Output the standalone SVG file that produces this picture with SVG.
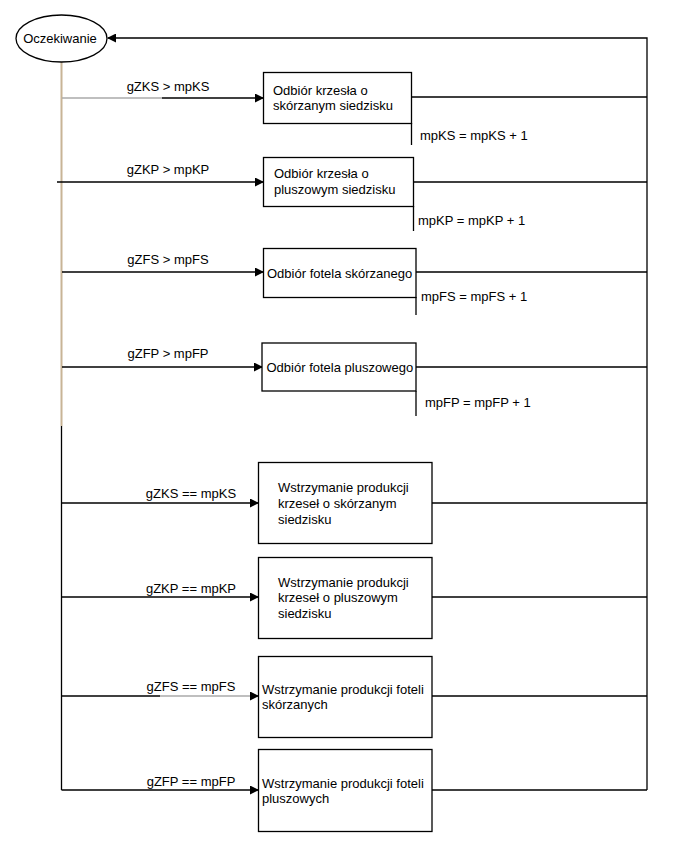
<svg xmlns="http://www.w3.org/2000/svg" width="693" height="861" viewBox="0 0 693 861">
<style>
text{font-family:"Liberation Sans",Arial,sans-serif;font-size:13px;fill:#000}
.m{text-anchor:middle}
.b{fill:#fff;stroke:#000;stroke-width:1.3}
.c{fill:none;stroke:#000;stroke-width:1.3}
.g{fill:none;stroke:#aaa;stroke-width:1.6}
.t{fill:none;stroke:#c8b496;stroke-width:2}
</style>
<defs>
<marker id="a" markerWidth="9" markerHeight="9" refX="8" refY="4.5" orient="auto" markerUnits="userSpaceOnUse">
<path d="M0,0 L9,4.5 L0,9 Z" fill="#000"/>
</marker>
</defs>
<rect width="693" height="861" fill="#fff"/>
<g id="connectors">
<path class="t" d="M61.5,62 V426"/>
<path class="c" d="M61.5,426 V790"/>
<path class="c" d="M647,790 V38 H108" marker-end="url(#a)"/>
<path class="g" d="M62,98 H162"/>
<path class="c" d="M162,98 H263" marker-end="url(#a)"/>
<path class="c" d="M57,182 H263" marker-end="url(#a)"/>
<path class="c" d="M62,272 H263" marker-end="url(#a)"/>
<path class="c" d="M62,367 H262" marker-end="url(#a)"/>
<path class="c" d="M62,503 H258" marker-end="url(#a)"/>
<path class="c" d="M62,597 H258" marker-end="url(#a)"/>
<path class="c" d="M62,696 H160"/>
<path class="g" d="M160,696 H250"/>
<path class="c" d="M250,696 H258" marker-end="url(#a)"/>
<path class="c" d="M61.5,790 H258" marker-end="url(#a)"/>
<path class="c" d="M411.5,97 H647 M411.5,123 V145"/>
<path class="c" d="M413.5,182 H647 M413.5,206 V231"/>
<path class="c" d="M416,272 H647 M416,297 V315"/>
<path class="c" d="M416,367 H647 M416,391 V416"/>
<path class="c" d="M432,503 H647"/>
<path class="c" d="M432,597 H647"/>
<path class="c" d="M432,696 H647"/>
<path class="c" d="M432,790 H647"/>
<text class="m" x="168" y="90.5">gZKS &gt; mpKS</text>
<text class="m" x="168" y="173.5">gZKP &gt; mpKP</text>
<text class="m" x="168" y="264">gZFS &gt; mpFS</text>
<text class="m" x="168" y="358">gZFP &gt; mpFP</text>
<text class="m" x="191" y="498">gZKS == mpKS</text>
<text class="m" x="191" y="592.5">gZKP == mpKP</text>
<text class="m" x="191" y="691">gZFS == mpFS</text>
<text class="m" x="191" y="785.5">gZFP == mpFP</text>
<text x="420" y="139.5">mpKS = mpKS + 1</text>
<text x="418" y="224.5">mpKP = mpKP + 1</text>
<text x="421" y="300.5">mpFS = mpFS + 1</text>
<text x="425" y="406.5">mpFP = mpFP + 1</text>
</g>
<g id="start">
<ellipse cx="61.5" cy="38.5" rx="45.5" ry="23.5" class="b"/>
<text class="m" x="60" y="43">Oczekiwanie</text>
</g>
<g id="n1">
<rect x="263.5" y="72.5" width="148" height="51" class="b"/>
<text x="273" y="94.5">Odbiór krzesła o</text>
<text x="273" y="109.5">skórzanym siedzisku</text>
</g>
<g id="n2">
<rect x="263.5" y="157.5" width="150" height="49" class="b"/>
<text x="274" y="177.5">Odbiór krzesła o</text>
<text x="274" y="193.5">pluszowym siedzisku</text>
</g>
<g id="n3">
<rect x="263.5" y="248.5" width="152.5" height="49" class="b"/>
<text x="267" y="277.5">Odbiór fotela skórzanego</text>
</g>
<g id="n4">
<rect x="262" y="343" width="154" height="48" class="b"/>
<text x="266.5" y="371.5">Odbiór fotela pluszowego</text>
</g>
<g id="n5">
<rect x="258.5" y="462.5" width="173.5" height="81" class="b"/>
<text x="278" y="491.5">Wstrzymanie produkcji</text>
<text x="278" y="507.5">krzeseł o skórzanym</text>
<text x="278" y="523.5">siedzisku</text>
</g>
<g id="n6">
<rect x="258.5" y="557.5" width="173.5" height="81" class="b"/>
<text x="278" y="586.5">Wstrzymanie produkcji</text>
<text x="278" y="601.5">krzeseł o pluszowym</text>
<text x="278" y="617.5">siedzisku</text>
</g>
<g id="n7">
<rect x="258.5" y="656.5" width="173.5" height="81" class="b"/>
<text x="262" y="693.5">Wstrzymanie produkcji foteli</text>
<text x="262" y="708.5">skórzanych</text>
</g>
<g id="n8">
<rect x="258.5" y="749.5" width="173.5" height="82" class="b"/>
<text x="262" y="787.5">Wstrzymanie produkcji foteli</text>
<text x="262" y="802.5">pluszowych</text>
</g>
</svg>
